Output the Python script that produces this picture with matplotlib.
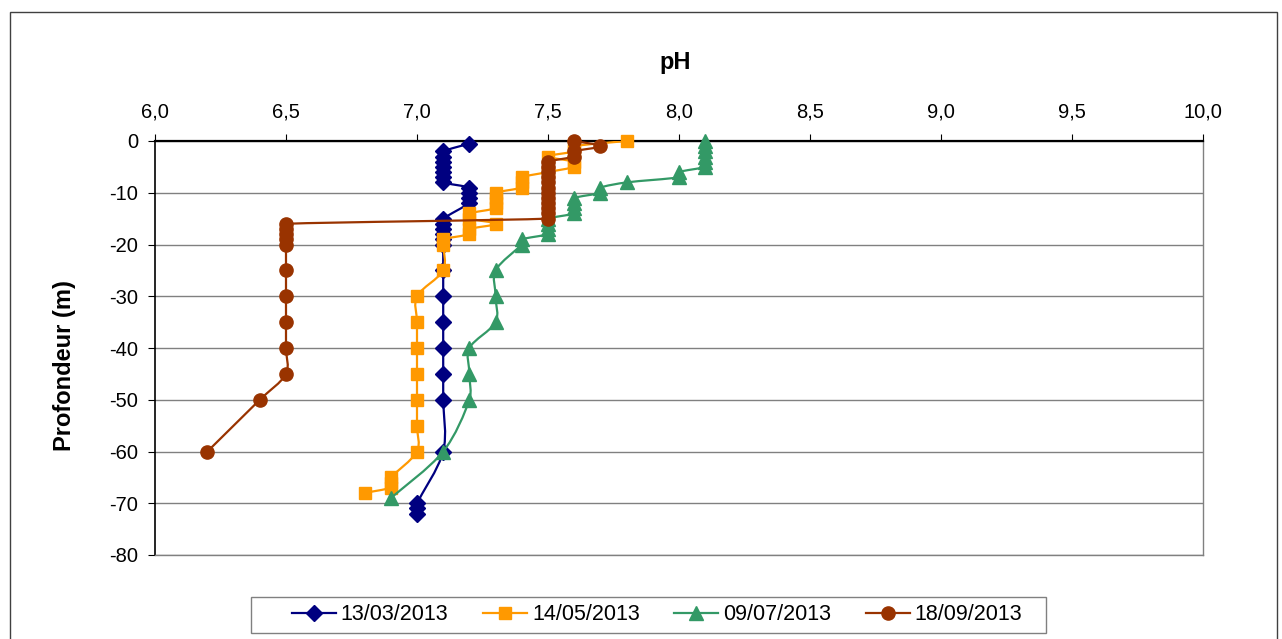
import numpy as np
import matplotlib
matplotlib.use("Agg")
import matplotlib.pyplot as plt
from matplotlib.path import Path
from matplotlib.patches import PathPatch, Rectangle
from matplotlib.lines import Line2D
from matplotlib.ticker import FuncFormatter, MultipleLocator

plt.rcParams["font.family"] = ["Liberation Sans", "DejaVu Sans"]
plt.rcParams["axes.unicode_minus"] = False

# pH profiles (depth in m, negative downwards)
ph_0313 = [7.2, 7.1, 7.1, 7.1, 7.1, 7.1, 7.1, 7.1, 7.2, 7.2, 7.2, 7.2,
           7.1, 7.1, 7.1, 7.1, 7.1, 7.1, 7.1, 7.1, 7.1, 7.1, 7.1, 7.1, 7.1,
           7.0, 7.0, 7.0]
depth_0313 = [-0.5, -2, -3, -4, -5, -6, -7, -8, -9, -10, -11, -12,
              -15, -16, -17, -18, -19, -20, -25, -30, -35, -40, -45, -50, -60,
              -70, -71, -72]

ph_1405 = [7.8, 7.6, 7.6, 7.5, 7.6, 7.6, 7.5, 7.4, 7.4, 7.4, 7.3, 7.3, 7.3, 7.3,
           7.2, 7.2, 7.3, 7.2, 7.2, 7.1, 7.1, 7.1, 7.0, 7.0, 7.0, 7.0, 7.0,
           7.0, 7.0, 6.9, 6.9, 6.9, 6.8]
depth_1405 = [0, -1, -2, -3, -4, -5, -6, -7, -8, -9, -10, -11, -12, -13,
              -14, -15, -16, -17, -18, -19, -20, -25, -30, -35, -40, -45, -50,
              -55, -60, -65, -66, -67, -68]

ph_0907 = [8.1, 8.1, 8.1, 8.1, 8.1, 8.1, 8.0, 8.0, 7.8, 7.7, 7.7, 7.6, 7.6,
           7.6, 7.6, 7.5, 7.5, 7.5, 7.5, 7.4, 7.4, 7.3, 7.3, 7.3, 7.2, 7.2,
           7.2, 7.1, 6.9]
depth_0907 = [0, -1, -2, -3, -4, -5, -6, -7, -8, -9, -10, -11, -12,
              -13, -14, -15, -16, -17, -18, -19, -20, -25, -30, -35, -40, -45,
              -50, -60, -69]

ph_1809 = [7.6, 7.7, 7.6, 7.6, 7.5, 7.5, 7.5, 7.5, 7.5, 7.5, 7.5, 7.5, 7.5,
           7.5, 7.5, 7.5, 6.5, 6.5, 6.5, 6.5, 6.5, 6.5, 6.5, 6.5, 6.5, 6.5,
           6.4, 6.2]
depth_1809 = [0, -1, -2, -3, -4, -5, -6, -7, -8, -9, -10, -11, -12,
              -13, -14, -15, -16, -17, -18, -19, -20, -25, -30, -35, -40, -45,
              -50, -60]

series = [
    ("13/03/2013", ph_0313, depth_0313, "#000080", "D", 8.0),
    ("14/05/2013", ph_1405, depth_1405, "#FF9900", "s", 8.5),
    ("09/07/2013", ph_0907, depth_0907, "#339966", "^", 9.5),
    ("18/09/2013", ph_1809, depth_1809, "#993300", "o", 9.5),
]

W, H = 1282, 639
AX_L, AX_R, AX_T, AX_B = 155, 1203, 141, 555
XMIN, XMAX, YMIN, YMAX = 6.0, 10.0, -80, 0


def smooth_path(x, y):
    # Excel-like smoothed line: Catmull-Rom as cubic Bezier, worked out in
    # pixel space with control arms capped at 1/3 of the segment length
    sx = (AX_R - AX_L) / (XMAX - XMIN)
    sy = (AX_B - AX_T) / (YMAX - YMIN)
    pts = np.column_stack([np.array(x) * sx, np.array(y) * sy]).astype(float)
    n = len(pts)
    verts = [pts[0]]
    codes = [Path.MOVETO]

    def cap(v, lim):
        L = np.hypot(*v)
        return v * (lim / L) if L > lim and L > 0 else v

    for i in range(n - 1):
        p0 = pts[i - 1] if i > 0 else pts[i]
        p1, p2 = pts[i], pts[i + 1]
        p3 = pts[i + 2] if i + 2 < n else pts[i + 1]
        seg = np.hypot(*(p2 - p1)) / 3
        verts += [p1 + cap((p2 - p0) / 6, seg), p2 - cap((p3 - p1) / 6, seg), p2]
        codes += [Path.CURVE4] * 3
    verts = np.array(verts)
    verts[:, 0] /= sx
    verts[:, 1] /= sy
    return Path(verts, codes)


fig = plt.figure(figsize=(W / 100, H / 100), dpi=100)
ax = fig.add_axes([AX_L / W, 1 - AX_B / H, (AX_R - AX_L) / W, (AX_B - AX_T) / H])

# outer chart border
fig.patches.append(Rectangle((10 / W, -0.01), (1277 - 10) / W, 1 - 12 / H + 0.01,
                             transform=fig.transFigure, fill=False,
                             edgecolor="#404040", lw=1.0))

handles = []
for k, (lbl, ph, dep, col, mk, ms) in enumerate(series):
    ax.add_patch(PathPatch(smooth_path(ph, dep), fill=False, edgecolor=col,
                           lw=1.6, zorder=3 + 2 * k, capstyle="round"))
    ax.plot(ph, dep, ls="none", marker=mk, ms=ms, color=col, mec=col,
            zorder=4 + 2 * k, clip_on=False)
    handles.append(Line2D([], [], color=col, lw=1.6, marker=mk, ms=ms, mec=col))

ax.set_xlim(XMIN, XMAX)
ax.set_ylim(YMIN, YMAX)
ax.xaxis.tick_top()
ax.xaxis.set_major_locator(MultipleLocator(0.5))
ax.yaxis.set_major_locator(MultipleLocator(10))
ax.xaxis.set_major_formatter(FuncFormatter(lambda v, p: f"{v:.1f}".replace(".", ",")))
ax.yaxis.set_major_formatter(FuncFormatter(lambda v, p: f"{v:.0f}"))
ax.tick_params(axis="both", direction="out", length=5, width=0.8, labelsize=14.5,
               colors="black")
ax.tick_params(axis="x", pad=9)
ax.tick_params(axis="y", pad=7)

ax.grid(axis="y", color="#808080", lw=1.0)
ax.set_axisbelow(True)
for s in ["right", "bottom"]:
    ax.spines[s].set_color("#808080")
    ax.spines[s].set_linewidth(1.0)
ax.spines["top"].set_linewidth(1.6)
ax.spines["left"].set_linewidth(1.2)

fig.text(675 / W, 1 - 62 / H, "pH", ha="center", va="center",
         fontsize=17, fontweight="bold")
fig.text(64 / W, 1 - 366 / H, "Profondeur (m)", ha="center", va="center",
         rotation=90, fontsize=17, fontweight="bold")

leg = fig.legend(handles, [s[0] for s in series], loc="center",
                 bbox_to_anchor=(657 / W, 1 - 615 / H), ncol=4, fontsize=15.5,
                 frameon=False, handlelength=2.05, handletextpad=0.23,
                 columnspacing=1.6, borderpad=0.0)
fig.patches.append(Rectangle((251 / W, 1 - 633 / H), (1046 - 251) / W, 36 / H,
                             transform=fig.transFigure, fill=False,
                             edgecolor="#808080", lw=1.0))

fig.savefig("out.png", dpi=100)
